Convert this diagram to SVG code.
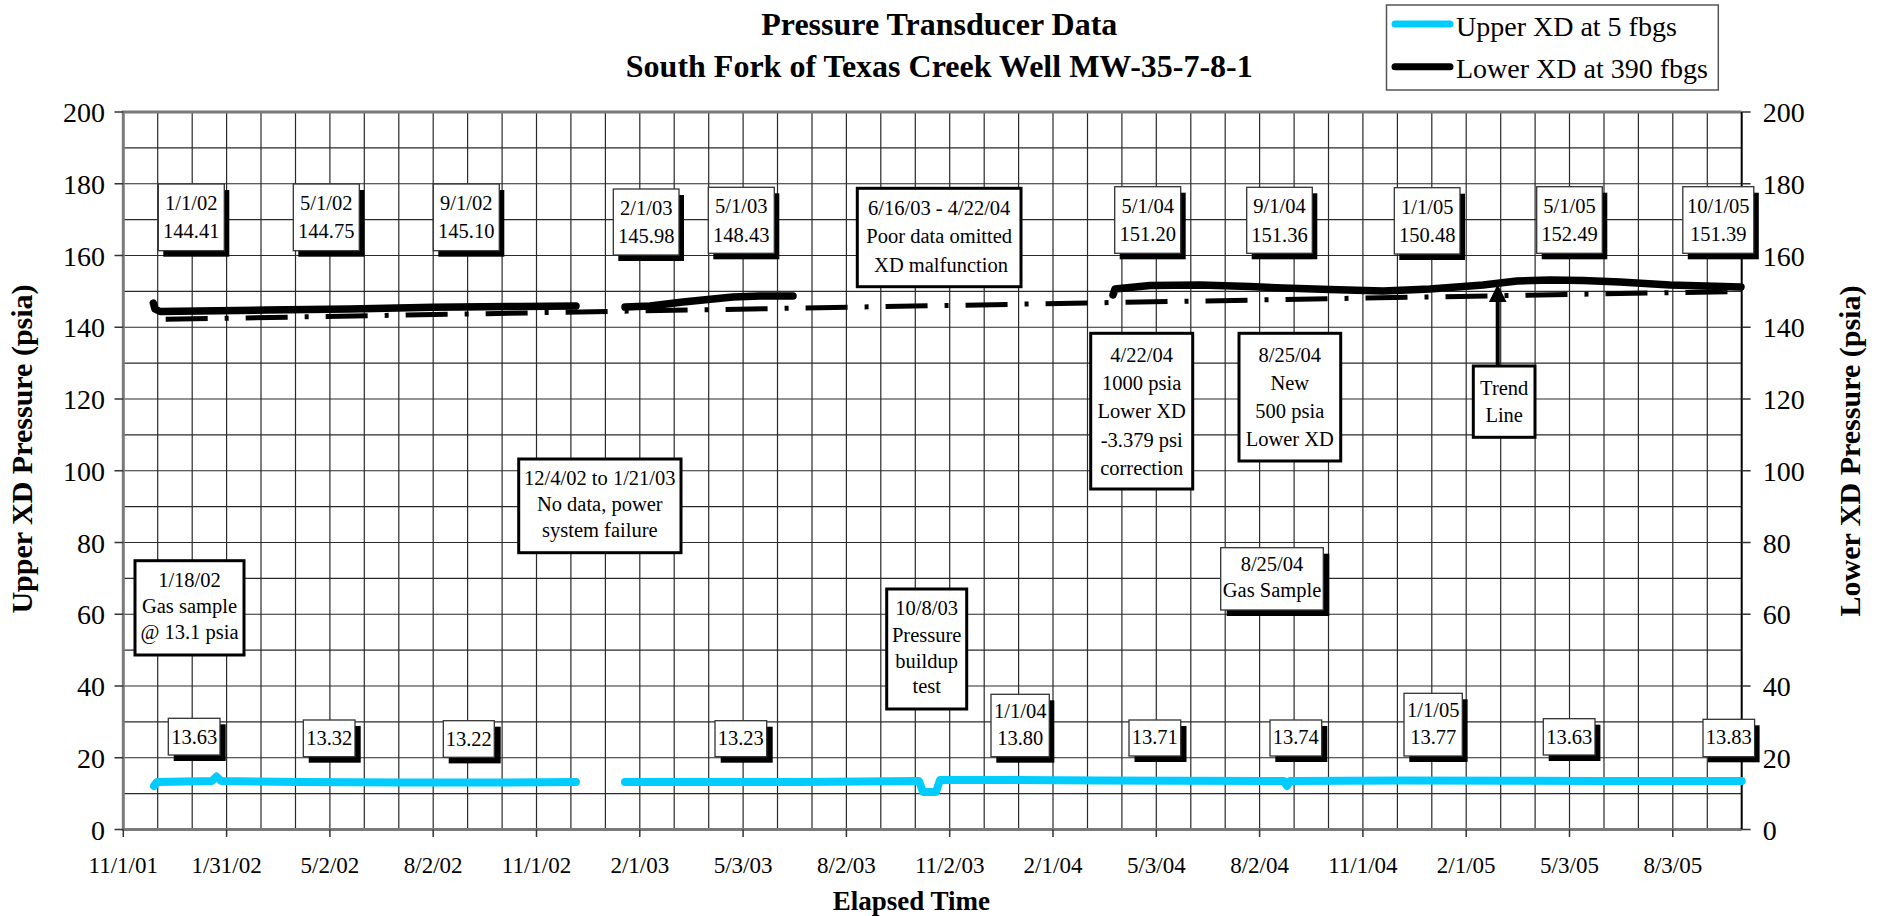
<svg xmlns="http://www.w3.org/2000/svg" width="1883" height="916" viewBox="0 0 1883 916">
<defs>
<style>
text{font-family:"Liberation Serif","Times New Roman",serif;fill:#000}
.t{font-size:32px;font-weight:bold;text-anchor:middle}
.ax{font-size:27px;font-weight:bold;text-anchor:middle}
.axv{font-size:30px;font-weight:bold;text-anchor:middle}
.yl{font-size:28px;text-anchor:end}
.yr{font-size:28px;text-anchor:start}
.xl{font-size:23px;text-anchor:middle}
.lg{font-size:28px}
.a{font-size:20.5px;text-anchor:middle}
.grid{stroke:#2a2a2a;stroke-width:1.2;fill:none}
.frame{stroke:#7a7a7a;stroke-width:3;fill:none}
.tick{stroke:#333;stroke-width:1.5;fill:none}
.box{fill:#fff;stroke:#333;stroke-width:1.3}
.tbox{fill:#fff;stroke:#000;stroke-width:3}
.sh{fill:#000}
.up{fill:none;stroke:#00ccff;stroke-width:8;stroke-linecap:round;stroke-linejoin:round}
.lo{fill:none;stroke:#000;stroke-width:7.5;stroke-linecap:round;stroke-linejoin:round}
.trend{fill:none;stroke:#000;stroke-width:5;stroke-dasharray:42 17 4 17}
</style>
<marker id="ah" markerWidth="4.5" markerHeight="4.5" refX="0.5" refY="2" orient="auto" markerUnits="strokeWidth" viewBox="0 0 4 4"><path d="M0,0 L4,2 L0,4 Z" fill="#000"/></marker>
</defs>
<rect width="1883" height="916" fill="#fff"/>

<g id="title">
<text class="t" x="939.3" y="35">Pressure Transducer Data</text>
<text class="t" x="939.3" y="77.3">South Fork of Texas Creek Well MW-35-7-8-1</text>
</g>

<g id="legend">
<rect x="1386.5" y="5" width="331.8" height="85" fill="#fff" stroke="#555" stroke-width="1.5"/>
<line x1="1395" y1="24" x2="1450" y2="24" stroke="#00ccff" stroke-width="7" stroke-linecap="round"/>
<line x1="1395" y1="66.7" x2="1450" y2="66.7" stroke="#000" stroke-width="7" stroke-linecap="round"/>
<text class="lg" x="1456" y="36">Upper XD at 5 fbgs</text>
<text class="lg" x="1456" y="78.3">Lower XD at 390 fbgs</text>
</g>

<g id="grid">
<path class="grid" d="M157.7,112V829.5M192.2,112V829.5M226.6,112V829.5M261,112V829.5M295.5,112V829.5M329.9,112V829.5M364.3,112V829.5M398.8,112V829.5M433.2,112V829.5M467.6,112V829.5M502.1,112V829.5M536.5,112V829.5M570.9,112V829.5M605.4,112V829.5M639.8,112V829.5M674.2,112V829.5M708.7,112V829.5M743.1,112V829.5M777.5,112V829.5M812,112V829.5M846.4,112V829.5M880.8,112V829.5M915.3,112V829.5M949.7,112V829.5M984.2,112V829.5M1018.6,112V829.5M1053,112V829.5M1087.5,112V829.5M1121.9,112V829.5M1156.3,112V829.5M1190.8,112V829.5M1225.2,112V829.5M1259.6,112V829.5M1294.1,112V829.5M1328.5,112V829.5M1362.9,112V829.5M1397.4,112V829.5M1431.8,112V829.5M1466.2,112V829.5M1500.7,112V829.5M1535.1,112V829.5M1569.5,112V829.5M1604,112V829.5M1638.4,112V829.5M1672.8,112V829.5M1707.3,112V829.5"/>
<path class="grid" d="M123.3,793.6H1741.7M123.3,757.75H1741.7M123.3,721.9H1741.7M123.3,686H1741.7M123.3,650.1H1741.7M123.3,614.25H1741.7M123.3,578.4H1741.7M123.3,542.5H1741.7M123.3,506.6H1741.7M123.3,470.75H1741.7M123.3,434.9H1741.7M123.3,399H1741.7M123.3,363.1H1741.7M123.3,327.25H1741.7M123.3,291.4H1741.7M123.3,255.5H1741.7M123.3,219.6H1741.7M123.3,183.75H1741.7M123.3,147.9H1741.7"/>
<path class="frame" d="M1741.7,112H123.3V829.5H1741.7"/>
<line x1="1741.7" y1="112" x2="1741.7" y2="829.5" stroke="#000" stroke-width="2"/>
<path class="tick" d="M114.5,112H123.3M114.5,183.75H123.3M114.5,255.5H123.3M114.5,327.25H123.3M114.5,399H123.3M114.5,470.75H123.3M114.5,542.5H123.3M114.5,614.25H123.3M114.5,686H123.3M114.5,757.75H123.3M114.5,829.5H123.3"/>
<path class="tick" d="M1741.7,112H1750.6M1741.7,183.75H1750.6M1741.7,255.5H1750.6M1741.7,327.25H1750.6M1741.7,399H1750.6M1741.7,470.75H1750.6M1741.7,542.5H1750.6M1741.7,614.25H1750.6M1741.7,686H1750.6M1741.7,757.75H1750.6M1741.7,829.5H1750.6"/>
<path class="tick" d="M123.3,829.5V837M226.6,829.5V837M329.9,829.5V837M433.2,829.5V837M536.5,829.5V837M639.8,829.5V837M743.1,829.5V837M846.4,829.5V837M949.7,829.5V837M1053,829.5V837M1156.3,829.5V837M1259.6,829.5V837M1362.9,829.5V837M1466.2,829.5V837M1569.5,829.5V837M1672.8,829.5V837"/>
</g>

<g id="y-left-labels">
<text class="yl" x="105" y="122">200</text>
<text class="yl" x="105" y="193.75">180</text>
<text class="yl" x="105" y="265.5">160</text>
<text class="yl" x="105" y="337.25">140</text>
<text class="yl" x="105" y="409">120</text>
<text class="yl" x="105" y="480.75">100</text>
<text class="yl" x="105" y="552.5">80</text>
<text class="yl" x="105" y="624.25">60</text>
<text class="yl" x="105" y="696">40</text>
<text class="yl" x="105" y="767.75">20</text>
<text class="yl" x="105" y="839.5">0</text>
</g>
<g id="y-right-labels">
<text class="yr" x="1762.7" y="122">200</text>
<text class="yr" x="1762.7" y="193.75">180</text>
<text class="yr" x="1762.7" y="265.5">160</text>
<text class="yr" x="1762.7" y="337.25">140</text>
<text class="yr" x="1762.7" y="409">120</text>
<text class="yr" x="1762.7" y="480.75">100</text>
<text class="yr" x="1762.7" y="552.5">80</text>
<text class="yr" x="1762.7" y="624.25">60</text>
<text class="yr" x="1762.7" y="696">40</text>
<text class="yr" x="1762.7" y="767.75">20</text>
<text class="yr" x="1762.7" y="839.5">0</text>
</g>
<g id="x-labels">
<text class="xl" x="123.3" y="872.7">11/1/01</text>
<text class="xl" x="226.6" y="872.7">1/31/02</text>
<text class="xl" x="329.9" y="872.7">5/2/02</text>
<text class="xl" x="433.2" y="872.7">8/2/02</text>
<text class="xl" x="536.5" y="872.7">11/1/02</text>
<text class="xl" x="639.8" y="872.7">2/1/03</text>
<text class="xl" x="743.1" y="872.7">5/3/03</text>
<text class="xl" x="846.4" y="872.7">8/2/03</text>
<text class="xl" x="949.7" y="872.7">11/2/03</text>
<text class="xl" x="1053" y="872.7">2/1/04</text>
<text class="xl" x="1156.3" y="872.7">5/3/04</text>
<text class="xl" x="1259.6" y="872.7">8/2/04</text>
<text class="xl" x="1362.9" y="872.7">11/1/04</text>
<text class="xl" x="1466.2" y="872.7">2/1/05</text>
<text class="xl" x="1569.5" y="872.7">5/3/05</text>
<text class="xl" x="1672.8" y="872.7">8/3/05</text>
</g>
<g id="axis-titles">
<text class="axv" transform="translate(32,449) rotate(-90)">Upper XD Pressure (psia)</text>
<text class="axv" transform="translate(1860,451) rotate(-90)">Lower XD Pressure (psia)</text>
<text class="ax" x="911.4" y="909.5">Elapsed Time</text>
</g>

<g id="series">
<polyline class="up" points="154,786 157,782 212,781 216.5,776.5 221,781 300,782 400,782.5 500,782.5 575.9,782"/>
<polyline class="up" points="625,782 800,782 919,781 923,792 936,792 940,780 1000,780 1100,780.5 1284,781 1287,786 1290,781 1400,780.5 1600,781 1741.7,781"/>
<polyline class="lo" points="153.3,303 155,309 160,311.5 266,310 350,309 433,307.3 520,306.5 576,306"/>
<polyline class="lo" points="625,307 650,306 683,302 733,297 760,296 793,296"/>
<polyline class="lo" points="1113,295 1115,289 1130,287.5 1150,285.5 1200,285 1250,286.5 1283,288 1330,289.5 1383,291 1430,289 1483,285 1517,281 1550,280 1583,280.5 1620,282 1670,285 1741,287"/>
<line class="trend" x1="165.7" y1="319.3" x2="1741" y2="291.4"/>
</g>

<g id="connectors">
<line x1="1497.7" y1="366" x2="1497.7" y2="300" stroke="#000" stroke-width="4" marker-end="url(#ah)"/>
</g>

<g id="n-1-1-02"><rect class="sh" x="163.3" y="190" width="66" height="66.7"/><rect class="box" x="158.3" y="184" width="66" height="66.7"/><text class="a" x="191.3" y="210">1/1/02</text><text class="a" x="191.3" y="238.3">144.41</text></g>
<g id="n-5-1-02"><rect class="sh" x="298.3" y="190" width="66" height="66.7"/><rect class="box" x="293.3" y="184" width="66" height="66.7"/><text class="a" x="326.3" y="210">5/1/02</text><text class="a" x="326.3" y="238.3">144.75</text></g>
<g id="n-9-1-02"><rect class="sh" x="438.3" y="190" width="66" height="66.7"/><rect class="box" x="433.3" y="184" width="66" height="66.7"/><text class="a" x="466.3" y="210">9/1/02</text><text class="a" x="466.3" y="238.3">145.10</text></g>
<g id="n-2-1-03"><rect class="sh" x="618.3" y="195" width="65.7" height="66"/><rect class="box" x="613.3" y="189" width="65.7" height="66"/><text class="a" x="646.2" y="215">2/1/03</text><text class="a" x="646.2" y="243.3">145.98</text></g>
<g id="n-5-1-03"><rect class="sh" x="713.3" y="193.3" width="66" height="66"/><rect class="box" x="708.3" y="187.3" width="66" height="66"/><text class="a" x="741.3" y="213.3">5/1/03</text><text class="a" x="741.3" y="241.6">148.43</text></g>
<g id="n-poor-data"><rect class="tbox" x="857.3" y="188.3" width="163.7" height="98.4"/><text class="a" x="939.2" y="215">6/16/03 - 4/22/04</text><text class="a" x="939.2" y="243.3">Poor data omitted</text><text class="a" x="941" y="271.7">XD malfunction</text></g>
<g id="n-5-1-04"><rect class="sh" x="1119.7" y="192.7" width="66" height="66.6"/><rect class="box" x="1114.7" y="186.7" width="66" height="66.6"/><text class="a" x="1147.7" y="212.7">5/1/04</text><text class="a" x="1147.7" y="241">151.20</text></g>
<g id="n-9-1-04"><rect class="sh" x="1251.7" y="193.3" width="65.6" height="66"/><rect class="box" x="1246.7" y="187.3" width="65.6" height="66"/><text class="a" x="1279.5" y="213.3">9/1/04</text><text class="a" x="1279.5" y="241.6">151.36</text></g>
<g id="n-1-1-05"><rect class="sh" x="1399.3" y="193.7" width="65.7" height="66.3"/><rect class="box" x="1394.3" y="187.7" width="65.7" height="66.3"/><text class="a" x="1427.2" y="213.7">1/1/05</text><text class="a" x="1427.2" y="242">150.48</text></g>
<g id="n-5-1-05"><rect class="sh" x="1541.7" y="192.7" width="65.6" height="66.6"/><rect class="box" x="1536.7" y="186.7" width="65.6" height="66.6"/><text class="a" x="1569.5" y="212.7">5/1/05</text><text class="a" x="1569.5" y="241">152.49</text></g>
<g id="n-10-1-05"><rect class="sh" x="1687.8" y="192.7" width="71" height="66.6"/><rect class="box" x="1682.8" y="186.7" width="71" height="66.6"/><text class="a" x="1718.3" y="212.7">10/1/05</text><text class="a" x="1718.3" y="241">151.39</text></g>

<g id="n-4-22-04"><rect class="tbox" x="1090.7" y="333.3" width="102" height="155.7"/><text class="a" x="1141.7" y="361.7">4/22/04</text><text class="a" x="1141.7" y="390">1000 psia</text><text class="a" x="1141.7" y="418.3">Lower XD</text><text class="a" x="1141.7" y="446.6">-3.379 psi</text><text class="a" x="1141.7" y="474.9">correction</text></g>
<g id="n-8-25-04-new"><rect class="tbox" x="1239" y="333.3" width="101.7" height="127.7"/><text class="a" x="1289.8" y="361.7">8/25/04</text><text class="a" x="1289.8" y="389.7">New</text><text class="a" x="1289.8" y="417.7">500 psia</text><text class="a" x="1289.8" y="445.5">Lower XD</text></g>
<g id="n-trend-line"><rect class="tbox" x="1473.3" y="366" width="61.7" height="71.3"/><text class="a" x="1504.2" y="395">Trend</text><text class="a" x="1504.2" y="422">Line</text></g>
<g id="n-no-data"><rect class="tbox" x="518.7" y="459" width="162.3" height="93.7"/><text class="a" x="599.8" y="485">12/4/02 to 1/21/03</text><text class="a" x="599.8" y="511">No data, power</text><text class="a" x="599.8" y="536.7">system failure</text></g>
<g id="n-gas-1-18-02"><rect class="tbox" x="135" y="560.7" width="109" height="94.3"/><text class="a" x="189.5" y="586.7">1/18/02</text><text class="a" x="189.5" y="613">Gas sample</text><text class="a" x="189.5" y="639.3">@ 13.1 psia</text></g>
<g id="n-gas-8-25-04"><rect class="sh" x="1226.7" y="553.7" width="102.6" height="62.3"/><rect class="box" x="1220.7" y="547.7" width="102.6" height="62.3"/><text class="a" x="1272" y="570.7">8/25/04</text><text class="a" x="1272" y="597.3">Gas Sample</text></g>
<g id="n-10-8-03"><rect class="tbox" x="886.7" y="589" width="80" height="120"/><text class="a" x="926.7" y="615">10/8/03</text><text class="a" x="926.7" y="641.5">Pressure</text><text class="a" x="926.7" y="667.7">buildup</text><text class="a" x="926.7" y="693.3">test</text></g>

<g id="n-u-13-63a"><rect class="sh" x="173.7" y="724.3" width="52" height="36.7"/><rect class="box" x="168.3" y="718.3" width="51.7" height="36.7"/><text class="a" x="194.2" y="743.5">13.63</text></g>
<g id="n-u-13-32"><rect class="sh" x="308.7" y="726" width="52" height="36.7"/><rect class="box" x="303.3" y="720" width="51.7" height="36.7"/><text class="a" x="329.2" y="745">13.32</text></g>
<g id="n-u-13-22"><rect class="sh" x="448.7" y="726.7" width="52" height="36.7"/><rect class="box" x="443.3" y="720.7" width="51" height="36.6"/><text class="a" x="468.8" y="745.5">13.22</text></g>
<g id="n-u-13-23"><rect class="sh" x="720.7" y="726.7" width="52" height="36"/><rect class="box" x="715" y="720.7" width="51.7" height="36"/><text class="a" x="740.8" y="745">13.23</text></g>
<g id="n-u-13-80"><rect class="sh" x="996.3" y="700.3" width="58" height="62.4"/><rect class="box" x="991" y="694.3" width="58.3" height="62.4"/><text class="a" x="1020.2" y="718">1/1/04</text><text class="a" x="1020.2" y="745.3">13.80</text></g>
<g id="n-u-13-71"><rect class="sh" x="1134.5" y="726" width="52" height="36"/><rect class="box" x="1129" y="720" width="51.7" height="36"/><text class="a" x="1154.8" y="744.3">13.71</text></g>
<g id="n-u-13-74"><rect class="sh" x="1275.3" y="726" width="52" height="36"/><rect class="box" x="1270" y="720" width="51.7" height="36"/><text class="a" x="1295.8" y="744.3">13.74</text></g>
<g id="n-u-13-77"><rect class="sh" x="1409.3" y="699.3" width="58.3" height="62.7"/><rect class="box" x="1404" y="693.3" width="58.3" height="62.7"/><text class="a" x="1433.2" y="717">1/1/05</text><text class="a" x="1433.2" y="744.3">13.77</text></g>
<g id="n-u-13-63b"><rect class="sh" x="1548.7" y="724.7" width="51.7" height="36.3"/><rect class="box" x="1543.3" y="718.7" width="51.7" height="36.3"/><text class="a" x="1569.2" y="743.5">13.63</text></g>
<g id="n-u-13-83"><rect class="sh" x="1708" y="725.3" width="51.6" height="37"/><rect class="box" x="1703" y="719.3" width="51.6" height="37.4"/><text class="a" x="1728.8" y="744.3">13.83</text></g>
</svg>
